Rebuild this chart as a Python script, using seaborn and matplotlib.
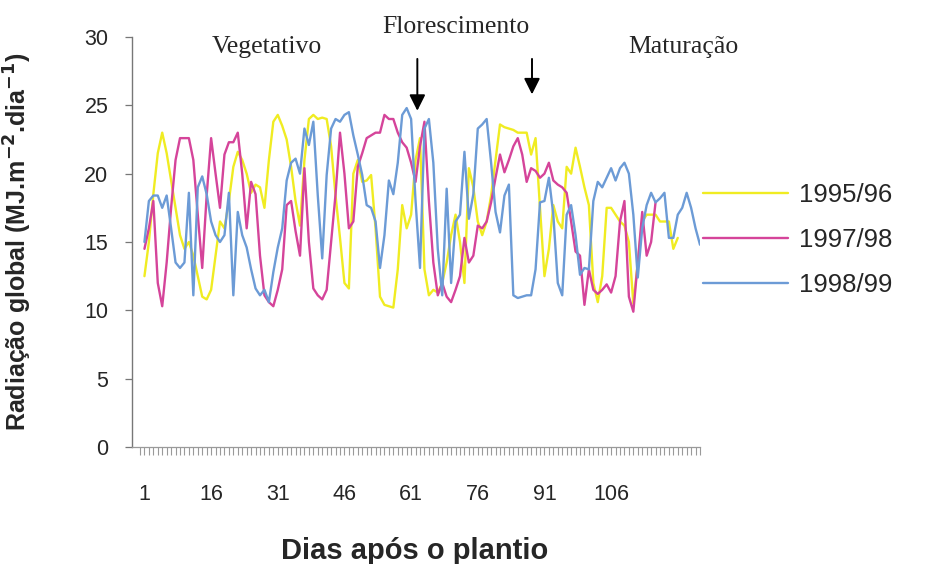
import numpy as np
import pandas as pd
import matplotlib
matplotlib.use("Agg")
import matplotlib.pyplot as plt
import seaborn as sns

# ---------------- data ----------------
y9596 = [12.5, 15, 18.5, 21.5, 23, 21.5, 19.5, 17.5, 15.5, 14.5,
         15, 14, 12.5, 11, 10.8, 11.5, 14, 16.5, 16, 18,
         20.5, 21.6, 21, 20, 18.6, 19.2, 19, 17.5, 21, 23.8,
         24.3, 23.5, 22.5, 20.5, 18, 16.2, 21, 24, 24.3, 24,
         24.1, 24, 22, 18.4, 15.3, 12, 11.6, 20, 21, 19.4,
         19.5, 19.9, 16, 11, 10.4, 10.3, 10.2, 13, 17.7, 16,
         17, 21, 22.6, 13, 11.1, 11.5, 11.3, 12, 13.5, 15.5,
         17, 15, 12, 20.4, 19, 16.5, 15.5, 16.5, 18.4, 21,
         23.6, 23.4, 23.3, 23.2, 23, 23, 23, 21.4, 22.6, 17.5,
         12.5, 14.5, 17.7, 16.5, 16, 20.5, 20, 21.9, 20.5, 19,
         17.7, 12, 10.6, 12.5, 17.5, 17.5, 17, 16.5, 16.2, 15,
         10.5, 13.5, 16.5, 17, 17, 17, 16.5, 16.5, 16.5, 14.5,
         15.3]

y9798 = [14.5, 16, 18, 12, 10.3, 13.5, 17.5, 21, 22.6, 22.6,
         22.6, 21, 17, 13.1, 18.4, 22.6, 20, 17.5, 21.4, 22.3,
         22.3, 23, 20, 16, 19.4, 18.5, 14, 11.1, 10.6, 10.3,
         11.5, 13, 17.7, 18, 15.8, 14, 20.4, 15, 11.6, 11.1,
         10.8, 11.5, 15, 18.5, 23, 20, 16, 16.5, 20.5, 21.5,
         22.6, 22.8, 23, 23, 24.3, 24, 24, 23, 22.3, 21.9,
         20.8, 19.4, 22, 23.8, 18, 13.5, 11.1, 12, 11, 10.6,
         11.5, 12.5, 15.3, 13.5, 14, 16.2, 16, 16.5, 17.9, 19.7,
         21.4, 20.1, 21, 22, 22.6, 21.4, 19.4, 20.4, 20.2, 19.7,
         20, 20.8, 19.5, 19.2, 19, 18.6, 16.5, 14.3, 14, 10.4,
         13, 11.5, 11.2, 11.5, 11.9, 11.3, 12.5, 16.5, 18, 11,
         9.9, 13.5, 17.2, 14, 15, 17.9]

y9899 = [15, 18, 18.4, 18.4, 17.5, 18.4, 16, 13.5, 13.1, 13.5,
         18.6, 11.1, 19, 19.8, 18.5, 16.5, 15.5, 15, 15.5, 18.6,
         11.1, 17.2, 15.5, 14.6, 13, 11.6, 11.1, 11.5, 10.6, 12.8,
         14.6, 16, 19.5, 20.8, 21.1, 20, 23.3, 22.1, 23.8, 18.4,
         13.8, 19.9, 23.3, 24, 23.8, 24.3, 24.5, 22.8, 21.4, 19.9,
         17.7, 17.5, 16.5, 13.1, 15.5, 19.5, 18.5, 20.8, 24.3, 24.8,
         24, 18, 13.1, 23.3, 24, 20.8, 14.5, 11.1, 18.9, 12,
         16.5, 17, 21.6, 16.7, 18.5, 23.3, 23.6, 24, 20.8, 17.2,
         15.7, 18.4, 19.2, 11.1, 10.9, 11, 11.1, 11.1, 13, 17.9,
         18, 19.7, 17, 12, 11.1, 17, 17.7, 15.5, 12.6, 13.1,
         13, 18, 19.4, 19, 19.7, 20.4, 19.5, 20.4, 20.8, 20,
         17, 12.4, 16, 17.7, 18.6, 17.9, 18.2, 18.6, 15.3, 15.3,
         17, 17.5, 18.6, 17.5, 16, 14.8]

series_names = ["1995/96", "1997/98", "1998/99"]
series_vals = [y9596, y9798, y9899]
colors = ["#F0EC22", "#D5449A", "#6C9BD6"]

tick_days = [1, 16, 31, 46, 61, 76, 91, 106]
y_ticks = [0, 5, 10, 15, 20, 25, 30]

phases = ["Vegetativo", "Florescimento", "Maturação"]
phase_days = [28.6, 71.0, 122.3]
arrow_days = [62.4, 88.2]

frames = []
for name, vals in zip(series_names, series_vals):
    frames.append(pd.DataFrame({"dia": np.arange(1, len(vals) + 1),
                                "rad": vals, "safra": name}))
df = pd.concat(frames, ignore_index=True)

# ---------------- figure ----------------
sns.set_theme(style="white")
plt.rcParams["font.family"] = ["Liberation Sans", "DejaVu Sans"]

fig = plt.figure(figsize=(9.28, 5.64), dpi=100)
ax = fig.add_axes([132 / 928, 1 - 447 / 564, 568 / 928, 410 / 564])

sns.lineplot(data=df, x="dia", y="rad", hue="safra", palette=colors,
             hue_order=series_names, linewidth=1.7, ax=ax, legend=True)

ax.set_xlim(-1.8, 125.6)
ax.set_ylim(0, 30)

n_days = 126
all_days = list(range(0, n_days + 1))
ax.set_xticks(all_days)
ax.set_xticklabels([str(d) if d in tick_days else "" for d in all_days])
ax.set_yticks(y_ticks)
ax.set_yticklabels([str(v) for v in y_ticks])

ax.tick_params(axis="x", direction="out", length=6, width=0.8,
               color="#9a9a9a", pad=21, labelsize=15.5, bottom=True)
ax.tick_params(axis="y", direction="out", length=5, width=0.9,
               color="#777777", pad=12, labelsize=15.5, left=True)

for s in ["top", "right"]:
    ax.spines[s].set_visible(False)
ax.spines["left"].set_color("#777777")
ax.spines["left"].set_linewidth(1.0)
ax.spines["bottom"].set_color("#9a9a9a")
ax.spines["bottom"].set_linewidth(0.9)

ax.set_xlabel("Dias após o plantio", fontsize=21, fontweight="bold")
ax.xaxis.set_label_coords(0.497, -0.22)
ax.set_ylabel("Radiação global (MJ.m$^{\\mathbf{-2}}$.dia$^{\\mathbf{-1}}$)",
              fontsize=18, fontweight="bold")
ax.yaxis.set_label_coords(-0.172, 0.5)

# phase annotations
serif = ["Liberation Serif", "DejaVu Serif"]
ax.text(phase_days[0], 29.3, phases[0], ha="center", va="center",
        fontsize=18.5, family=serif, clip_on=False)
ax.text(phase_days[1], 30.75, phases[1], ha="center", va="center",
        fontsize=18.5, family=serif, clip_on=False)
ax.text(phase_days[2], 29.3, phases[2], ha="center", va="center",
        fontsize=18.5, family=serif, clip_on=False)
ax.annotate("", xy=(arrow_days[0], 24.4), xytext=(arrow_days[0], 28.6),
            arrowprops=dict(arrowstyle="-|>", color="black", lw=1.4,
                            mutation_scale=24), annotation_clip=False)
ax.annotate("", xy=(arrow_days[1], 25.6), xytext=(arrow_days[1], 28.6),
            arrowprops=dict(arrowstyle="-|>", color="black", lw=1.4,
                            mutation_scale=24), annotation_clip=False)

# legend
handles, labels = ax.get_legend_handles_labels()
ax.legend(handles, labels, loc="center left", frameon=False,
          bbox_to_anchor=(703 / 928, 1 - 240 / 564),
          bbox_transform=fig.transFigure, fontsize=18.5, handlelength=3.3,
          handletextpad=0.45, labelspacing=0.8, borderpad=0,
          borderaxespad=0)

fig.savefig("out.png", dpi=100, facecolor="white")
